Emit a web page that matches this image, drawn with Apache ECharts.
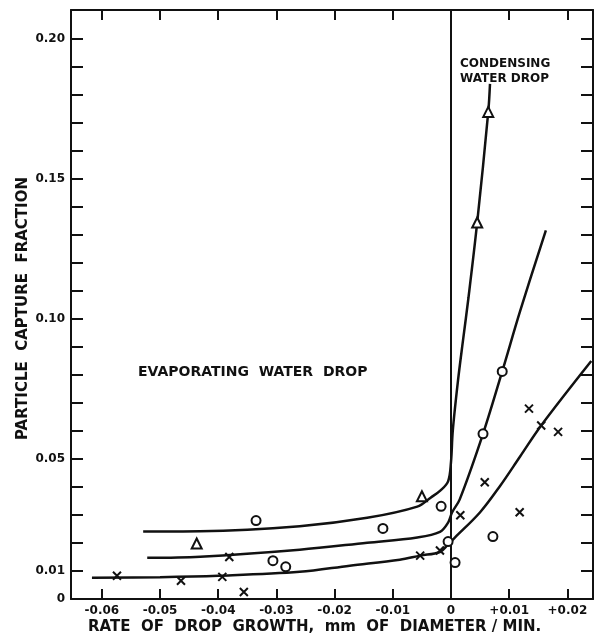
<!DOCTYPE html>
<html lang="en">
<head>
    <meta charset="UTF-8">
    <title>Particle capture fraction</title>
    <script src="https://cdn.jsdelivr.net/npm/echarts@6/dist/echarts.min.js"></script>
    <style>
        html, body { margin: 0; padding: 0; background: #fff; }
        #main { width: 595px; height: 641px; }
    </style>
</head>
<body>
    <div id="main"></div>
    <script type="text/javascript">
        // ticks and labels
        var xTicks = [-0.06, -0.05, -0.04, -0.03, -0.02, -0.01, 0, 0.01, 0.02];
        var yTicks = [0, 0.01, 0.02, 0.03, 0.04, 0.05, 0.06, 0.07, 0.08, 0.09, 0.10,
                      0.11, 0.12, 0.13, 0.14, 0.15, 0.16, 0.17, 0.18, 0.19, 0.20];
        var yLabels = [0, 0.01, 0.05, 0.10, 0.15, 0.20];

        // measured points
        var triangleX = [0.0064, 0.0045, -0.0437, -0.005];
        var triangleY = [0.174, 0.1345, 0.0198, 0.0367];

        var circleX = [-0.0335, -0.0306, -0.0284, -0.0117, -0.0017, -0.0005, 0.0007, 0.0055, 0.0088, 0.0072];
        var circleY = [0.028, 0.0137, 0.0115, 0.0252, 0.0331, 0.0205, 0.013, 0.059, 0.0813, 0.0223];

        var crossX = [-0.0574, -0.0464, -0.0393, -0.0356, -0.0381, -0.0053, -0.0019, 0.0016, 0.0058, 0.0118, 0.0134, 0.0155, 0.0184];
        var crossY = [0.0083, 0.0065, 0.0079, 0.0025, 0.015, 0.0155, 0.0173, 0.0299, 0.0417, 0.031, 0.068, 0.062, 0.0597];

        // hand drawn curves
        var topCurveX = [-0.0529, -0.0431, -0.026, -0.0144, -0.0058, -0.0035, -0.0018, -0.0005, 0, 0.0003, 0.0012, 0.0021, 0.003, 0.0045, 0.0064, 0.0067];
        var topCurveY = [0.0241, 0.0242, 0.026, 0.029, 0.033, 0.0362, 0.0388, 0.042, 0.049, 0.06, 0.078, 0.093, 0.1076, 0.1345, 0.174, 0.184];

        var midCurveX = [-0.0522, -0.0431, -0.026, -0.0144, -0.0058, -0.0019, -0.0005, 0.0002, 0.0015, 0.0055, 0.0088, 0.0119, 0.0163];
        var midCurveY = [0.0147, 0.0151, 0.0176, 0.0201, 0.022, 0.024, 0.0273, 0.031, 0.0356, 0.059, 0.0813, 0.103, 0.1317];

        var lowCurveX = [-0.0617, -0.05, -0.04, -0.026, -0.0174, -0.0088, -0.0053, -0.0019, -0.0005, 0.0007, 0.005, 0.0084, 0.0119, 0.0155, 0.0241];
        var lowCurveY = [0.0076, 0.0078, 0.0083, 0.0097, 0.0119, 0.014, 0.0155, 0.0168, 0.0195, 0.022, 0.031, 0.0403, 0.051, 0.062, 0.085];

        function pairs(xs, ys) {
            var out = [];
            for (var i = 0; i < xs.length; i++) {
                out.push([xs[i], ys[i]]);
            }
            return out;
        }

        var ink = '#111';
        var font = 'DejaVu Sans';
        var xMin = -0.0653, xMax = 0.0244, yMin = 0, yMax = 0.2104;

        function xFmt(v) {
            if (Math.abs(v) < 1e-9) return '0';
            return (v > 0 ? '+' : '') + v.toFixed(2);
        }
        function yFmt(v) {
            if (Math.abs(v) < 1e-9) return '0';
            return v.toFixed(2);
        }

        var myChart = echarts.init(document.getElementById('main'));
        var crossPath = 'path://M0,0L10,10M10,0L0,10';

        function curve(name, xs, ys) {
            return {
                name: name,
                type: 'line',
                data: pairs(xs, ys),
                smooth: 0.35,
                showSymbol: false,
                lineStyle: { color: ink, width: 2.5 },
                z: 2
            };
        }

        function frameLine() {
            return { onZero: false, lineStyle: { color: ink, width: 2 } };
        }

        option = {
            animation: false,
            grid: { left: 71, right: 2, top: 10, bottom: 42 },
            xAxis: [
                {
                    type: 'value', min: xMin, max: xMax,
                    axisLine: frameLine(),
                    axisTick: { inside: true, length: 10, lineStyle: { color: ink, width: 2 }, customValues: xTicks },
                    axisLabel: {
                        customValues: xTicks, formatter: xFmt, color: ink,
                        fontFamily: font, fontWeight: 'bold', fontSize: 12, margin: 6
                    },
                    splitLine: { show: false }
                },
                {
                    type: 'value', min: xMin, max: xMax, position: 'top',
                    axisLine: frameLine(),
                    axisTick: { inside: true, length: 10, lineStyle: { color: ink, width: 2 }, customValues: xTicks },
                    axisLabel: { show: false },
                    splitLine: { show: false }
                }
            ],
            yAxis: [
                {
                    type: 'value', min: yMin, max: yMax,
                    axisLine: frameLine(),
                    axisTick: { inside: true, length: 12, lineStyle: { color: ink, width: 2 }, customValues: yTicks },
                    axisLabel: {
                        customValues: yLabels, formatter: yFmt, color: ink,
                        fontFamily: font, fontWeight: 'bold', fontSize: 12, margin: 6
                    },
                    splitLine: { show: false }
                },
                {
                    type: 'value', min: yMin, max: yMax, position: 'right',
                    axisLine: frameLine(),
                    axisTick: { inside: true, length: 12, lineStyle: { color: ink, width: 2 }, customValues: yTicks },
                    axisLabel: { show: false },
                    splitLine: { show: false }
                }
            ],
            graphic: [
                {
                    type: 'text', left: 88, top: 620,
                    style: { text: 'RATE  OF  DROP  GROWTH,  mm  OF  DIAMETER / MIN.', fill: ink, font: 'bold 15px "DejaVu Sans"' }
                },
                {
                    type: 'text', x: 16, y: 440, rotation: Math.PI / 2,
                    style: { text: 'PARTICLE  CAPTURE  FRACTION', fill: ink, font: 'bold 15px "DejaVu Sans"' }
                },
                {
                    type: 'text', left: 460, top: 56,
                    style: { text: 'CONDENSING\nWATER DROP', fill: ink, font: 'bold 12px "DejaVu Sans"', lineHeight: 15 }
                },
                {
                    type: 'text', left: 138, top: 365,
                    style: { text: 'EVAPORATING  WATER  DROP', fill: ink, font: 'bold 14px "DejaVu Sans"' }
                }
            ],
            series: [
                curve('top', topCurveX, topCurveY),
                curve('middle', midCurveX, midCurveY),
                curve('low', lowCurveX, lowCurveY),
                {
                    name: 'zero', type: 'line', data: [],
                    markLine: {
                        silent: true, symbol: 'none', label: { show: false },
                        lineStyle: { color: ink, width: 2, type: 'solid' },
                        data: [{ xAxis: 0 }]
                    }
                },
                {
                    name: 'triangles', type: 'scatter', data: pairs(triangleX, triangleY),
                    symbol: 'triangle', symbolSize: 10,
                    itemStyle: { color: '#fff', borderColor: ink, borderWidth: 2, opacity: 1 }, z: 5
                },
                {
                    name: 'circles', type: 'scatter', data: pairs(circleX, circleY),
                    symbol: 'circle', symbolSize: 9,
                    itemStyle: { color: '#fff', borderColor: ink, borderWidth: 2, opacity: 1 }, z: 5
                },
                {
                    name: 'crosses', type: 'scatter', data: pairs(crossX, crossY),
                    symbol: crossPath, symbolSize: 8,
                    itemStyle: { color: 'none', borderColor: ink, borderWidth: 2, opacity: 1 }, z: 5
                }
            ]
        };
        myChart.setOption(option);
    </script>
</body>
</html>
